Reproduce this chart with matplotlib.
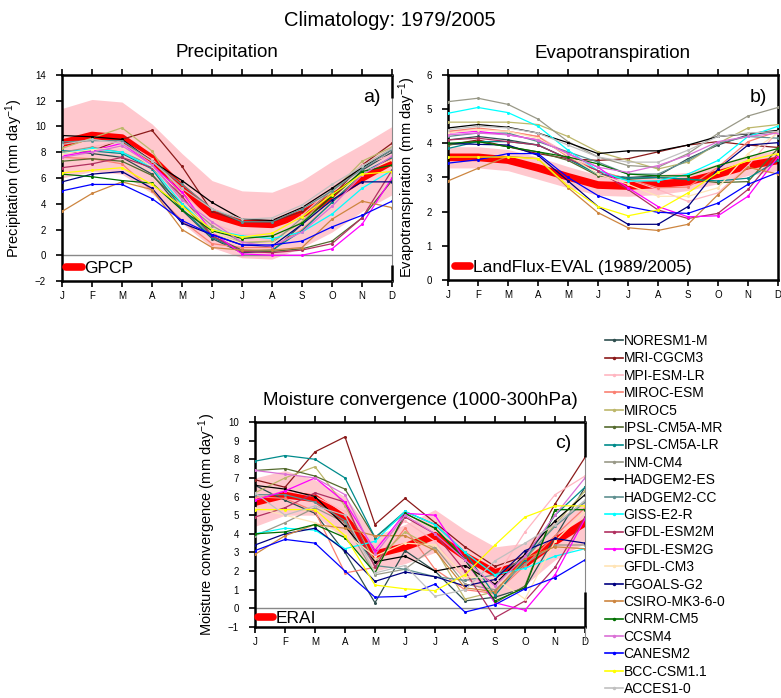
import matplotlib
matplotlib.use("Agg")
import matplotlib.pyplot as plt
from matplotlib.lines import Line2D
import numpy as np

plt.rcParams['font.family'] = ['Liberation Sans', 'DejaVu Sans']
plt.rcParams['mathtext.default'] = 'regular'

months = ['J', 'F', 'M', 'A', 'M', 'J', 'J', 'A', 'S', 'O', 'N', 'D']

models = ['NORESM1-M', 'MRI-CGCM3', 'MPI-ESM-LR', 'MIROC-ESM', 'MIROC5',
          'IPSL-CM5A-MR', 'IPSL-CM5A-LR', 'INM-CM4', 'HADGEM2-ES', 'HADGEM2-CC',
          'GISS-E2-R', 'GFDL-ESM2M', 'GFDL-ESM2G', 'GFDL-CM3', 'FGOALS-G2',
          'CSIRO-MK3-6-0', 'CNRM-CM5', 'CCSM4', 'CANESM2', 'BCC-CSM1.1', 'ACCES1-0']

colors = ['#2F4F4F', '#8B1A1A', '#FFB6C1', '#FA8072', '#BDB76B',
          '#556B2F', '#008B8B', '#999988', '#000000', '#5F9090',
          '#00FFFF', '#B03060', '#FF00FF', '#FFE4B5', '#000080',
          '#CD853F', '#007000', '#DA70D6', '#0000FF', '#FFFF00', '#C0C0C0']

# ---------------- Precipitation (mm/day) ----------------
pr_NORESM1_M   = [8.1, 7.9, 7.6, 6.3, 3.5, 1.3, 0.2, 0.3, 2.4, 4.3, 6.6, 8.0]
pr_MRI_CGCM3   = [8.0, 8.1, 9.0, 9.7, 6.9, 3.4, 2.6, 2.6, 3.4, 4.6, 7.0, 8.7]
pr_MPI_ESM_LR  = [7.5, 8.4, 8.9, 7.5, 5.0, 2.5, 1.6, 1.7, 3.1, 5.2, 7.0, 7.8]
pr_MIROC_ESM   = [7.6, 7.5, 7.1, 5.0, 2.7, 0.9, 0.6, 0.6, 2.0, 4.1, 6.3, 7.5]
pr_MIROC5      = [8.3, 9.1, 9.9, 8.1, 4.4, 1.7, 1.0, 1.1, 2.6, 4.9, 7.3, 8.4]
pr_IPSL_MR     = [7.3, 7.5, 7.3, 6.2, 4.0, 1.5, 0.4, 0.3, 0.5, 1.1, 2.9, 5.8]
pr_IPSL_LR     = [8.1, 8.1, 7.9, 6.7, 3.6, 1.4, 0.3, 0.4, 1.9, 4.1, 6.4, 7.6]
pr_INM_CM4     = [8.0, 8.4, 8.0, 7.0, 4.3, 2.3, 1.0, 0.9, 2.9, 5.1, 6.9, 8.3]
pr_HADGEM2_ES  = [9.3, 9.2, 9.0, 7.3, 5.8, 4.1, 2.8, 2.7, 3.7, 5.2, 6.8, 8.2]
pr_HADGEM2_CC  = [8.8, 8.9, 8.9, 7.3, 5.5, 3.6, 2.6, 2.6, 3.6, 5.0, 6.7, 8.2]
pr_GISS_E2_R   = [7.9, 8.3, 8.0, 6.8, 4.0, 2.0, 1.5, 1.3, 1.8, 3.2, 5.2, 6.6]
pr_GFDL_ESM2M  = [6.8, 7.1, 7.6, 6.8, 4.6, 1.5, 0.3, 0.2, 0.4, 0.9, 2.9, 6.6]
pr_GFDL_ESM2G  = [7.7, 8.1, 8.7, 7.0, 4.9, 1.8, 0.1, 0.0, 0.0, 0.5, 2.4, 6.0]
pr_GFDL_CM3    = [7.9, 8.2, 8.4, 6.9, 4.3, 1.8, 0.9, 0.9, 2.4, 4.3, 6.4, 7.4]
pr_FGOALS_G2   = [5.7, 6.3, 6.5, 5.2, 2.5, 1.6, 0.8, 0.7, 2.4, 4.3, 5.7, 5.7]
pr_CSIRO       = [3.4, 4.8, 5.7, 5.1, 2.0, 0.6, 0.4, 0.4, 0.6, 2.8, 4.2, 3.7]
pr_CNRM_CM5    = [6.3, 6.1, 5.8, 5.6, 3.5, 1.9, 1.3, 1.5, 2.5, 4.6, 6.5, 7.0]
pr_CCSM4       = [7.6, 8.0, 8.5, 7.0, 4.3, 2.6, 1.0, 0.7, 1.8, 3.8, 6.2, 7.7]
pr_CANESM2     = [5.0, 5.5, 5.5, 4.4, 2.7, 1.6, 0.8, 0.8, 1.1, 2.2, 3.1, 4.2]
pr_BCC_CSM11   = [6.4, 6.6, 6.8, 5.5, 3.8, 2.0, 1.4, 1.7, 3.0, 4.7, 6.3, 6.5]
pr_ACCES1_0    = [8.6, 9.0, 8.7, 7.3, 5.2, 3.6, 2.8, 2.9, 3.9, 5.5, 6.9, 8.3]
pr_obs         = [8.7, 9.3, 9.1, 7.5, 5.2, 3.2, 2.5, 2.4, 3.2, 4.5, 6.0, 7.3]
pr_band_hi     = [11.4, 12.1, 11.9, 10.2, 7.9, 5.8, 5.0, 4.9, 5.8, 7.3, 8.6, 10.0]
pr_band_lo     = [6.0, 6.5, 6.3, 4.8, 2.5, 0.6, -0.2, -0.3, 0.6, 1.8, 3.4, 4.7]

# ---------------- Evapotranspiration (mm/day) ----------------
et_NORESM1_M   = [4.10, 4.20, 4.10, 3.95, 3.55, 3.10, 3.00, 3.05, 3.55, 3.95, 4.25, 4.35]
et_MRI_CGCM3   = [3.95, 4.10, 3.90, 3.70, 3.55, 3.50, 3.55, 3.75, 3.95, 4.05, 3.95, 3.88]
et_MPI_ESM_LR  = [4.35, 4.40, 4.35, 4.20, 3.70, 3.20, 2.95, 2.65, 2.30, 2.55, 3.35, 4.35]
et_MIROC_ESM   = [4.35, 4.45, 4.35, 4.20, 3.60, 3.20, 2.95, 2.70, 2.72, 3.30, 4.05, 4.35]
et_MIROC5      = [4.62, 4.62, 4.62, 4.55, 4.20, 3.75, 3.50, 3.25, 3.45, 4.00, 4.45, 4.55]
et_IPSL_MR     = [3.95, 4.05, 3.90, 3.75, 3.50, 3.05, 2.95, 3.00, 2.95, 2.85, 2.88, 3.85]
et_IPSL_LR     = [3.85, 4.05, 4.05, 3.95, 3.55, 3.10, 2.98, 3.00, 2.95, 2.90, 2.98, 3.50]
et_INM_CM4     = [5.22, 5.32, 5.14, 4.71, 4.05, 3.60, 3.35, 3.30, 3.70, 4.29, 4.80, 5.05]
et_HADGEM2_ES  = [4.45, 4.55, 4.47, 4.30, 4.02, 3.70, 3.78, 3.78, 3.95, 4.20, 4.28, 4.38]
et_HADGEM2_CC  = [4.20, 4.30, 4.30, 4.05, 3.75, 3.45, 3.10, 3.10, 3.50, 4.00, 4.20, 4.15]
et_GISS_E2_R   = [4.88, 5.05, 4.90, 4.50, 3.80, 3.20, 2.90, 2.90, 3.10, 3.50, 4.20, 4.50]
et_GFDL_ESM2M  = [4.10, 4.15, 4.05, 3.95, 3.55, 3.20, 2.65, 2.05, 1.80, 1.95, 2.65, 3.70]
et_GFDL_ESM2G  = [4.30, 4.35, 4.25, 4.10, 3.70, 3.30, 2.70, 2.15, 1.85, 1.88, 2.45, 3.60]
et_GFDL_CM3    = [4.30, 4.40, 4.35, 4.15, 3.65, 3.10, 2.80, 2.45, 2.45, 2.70, 3.70, 4.30]
et_FGOALS_G2   = [4.00, 3.97, 3.95, 3.65, 2.90, 2.15, 1.63, 1.63, 2.15, 3.25, 3.95, 4.02]
et_CSIRO       = [2.90, 3.27, 3.62, 3.55, 2.70, 1.97, 1.53, 1.45, 1.63, 2.50, 3.30, 3.10]
et_CNRM_CM5    = [4.00, 4.05, 3.90, 3.75, 3.60, 3.40, 3.10, 3.05, 3.05, 3.35, 3.60, 3.85]
et_CCSM4       = [4.25, 4.30, 4.25, 4.10, 3.70, 3.30, 3.15, 3.35, 3.65, 4.05, 4.20, 4.30]
et_CANESM2     = [3.42, 3.52, 3.70, 3.70, 3.00, 2.47, 2.15, 1.98, 1.95, 2.25, 2.80, 3.15]
et_BCC_CSM11   = [3.60, 3.60, 3.60, 3.55, 2.75, 2.15, 1.88, 2.05, 2.55, 3.15, 3.50, 3.70]
et_ACCES1_0    = [4.40, 4.50, 4.45, 4.30, 3.95, 3.60, 3.45, 3.45, 3.80, 4.20, 4.30, 4.35]
et_obs         = [3.59, 3.59, 3.51, 3.28, 3.02, 2.78, 2.75, 2.80, 2.88, 3.10, 3.35, 3.50]
et_band_hi     = [3.90, 3.90, 3.82, 3.60, 3.32, 3.07, 3.02, 3.08, 3.15, 3.40, 3.65, 3.80]
et_band_lo     = [3.28, 3.28, 3.20, 2.95, 2.70, 2.48, 2.45, 2.50, 2.62, 2.82, 3.06, 3.20]

# ---------------- Moisture convergence (mm/day) ----------------
mc_NORESM1_M   = [6.6, 5.8, 5.1, 3.0, 0.3, 3.1, 2.0, 0.4, 0.6, 1.1, 3.8, 6.5]
mc_MRI_CGCM3   = [6.9, 6.5, 8.4, 9.2, 4.5, 5.9, 4.6, 3.3, 2.25, 2.8, 5.6, 8.1]
mc_MPI_ESM_LR  = [5.9, 6.3, 6.0, 5.2, 3.3, 4.7, 3.6, 1.5, 1.6, 4.1, 6.1, 7.1]
mc_MIROC_ESM   = [6.0, 5.9, 5.2, 1.9, 2.2, 4.3, 2.1, 1.0, 0.8, 2.3, 3.9, 5.4]
mc_MIROC5      = [6.2, 7.0, 7.6, 5.5, 2.5, 4.1, 3.2, 0.5, 0.9, 2.6, 4.5, 6.3]
mc_IPSL_MR     = [7.4, 7.5, 7.1, 6.4, 3.8, 5.1, 4.3, 2.7, 0.3, 1.2, 5.3, 5.3]
mc_IPSL_LR     = [7.9, 8.2, 8.0, 7.0, 3.8, 5.2, 4.5, 3.0, 0.7, 2.6, 5.0, 6.5]
mc_INM_CM4     = [3.9, 4.6, 5.4, 4.6, 1.8, 2.1, 3.3, 1.3, 1.0, 2.4, 3.4, 3.4]
mc_HADGEM2_ES  = [6.6, 6.4, 6.0, 4.4, 2.5, 2.8, 2.0, 2.3, 1.3, 2.9, 4.7, 6.1]
mc_HADGEM2_CC  = [6.1, 6.1, 5.7, 4.7, 2.3, 2.1, 1.7, 1.5, 1.8, 2.7, 4.4, 5.7]
mc_GISS_E2_R   = [4.0, 4.3, 4.2, 3.2, 3.6, 5.2, 4.5, 3.0, 1.8, 2.15, 2.8, 3.2]
mc_GFDL_ESM2M  = [4.9, 5.4, 6.2, 5.7, 2.2, 4.9, 4.0, 2.0, -0.5, 0.4, 2.2, 4.9]
mc_GFDL_ESM2G  = [5.8, 6.3, 7.0, 5.7, 3.1, 5.1, 5.0, 2.6, 0.3, -0.1, 1.8, 4.8]
mc_GFDL_CM3    = [5.4, 5.0, 4.6, 4.0, 2.8, 3.5, 3.4, 1.7, 1.6, 0.5, 3.6, 5.2]
mc_FGOALS_G2   = [3.4, 4.0, 4.3, 3.1, 1.45, 1.95, 1.7, 1.2, 1.55, 3.1, 3.75, 3.5]
mc_CSIRO       = [2.9, 3.9, 4.5, 4.3, 3.9, 3.9, 3.1, 1.1, 0.9, 2.7, 3.3, 3.2]
mc_CNRM_CM5    = [4.0, 4.1, 4.5, 3.8, 1.9, 5.1, 4.3, 2.6, 0.4, 1.1, 5.3, 5.3]
mc_CCSM4       = [7.4, 7.2, 7.0, 6.1, 2.9, 5.0, 4.0, 2.6, 1.2, 2.8, 5.0, 7.0]
mc_CANESM2     = [3.1, 3.7, 3.5, 2.0, 0.6, 0.65, 1.3, -0.2, 0.2, 1.05, 1.65, 2.6]
mc_BCC_CSM11   = [5.3, 5.3, 5.3, 3.9, 1.25, 1.05, 0.95, 1.8, 3.4, 4.9, 5.5, 5.5]
mc_ACCES1_0    = [6.2, 5.0, 5.5, 5.0, 1.9, 2.3, 0.65, 1.0, 2.55, 3.5, 4.5, 5.8]
mc_obs         = [5.7, 6.1, 5.9, 4.8, 2.9, 3.3, 3.9, 2.8, 1.9, 2.4, 3.6, 4.6]
mc_band_hi     = [7.0, 7.4, 6.9, 6.0, 3.9, 4.5, 5.3, 4.2, 3.3, 3.5, 4.7, 5.8]
mc_band_lo     = [4.4, 5.0, 5.0, 3.7, 2.0, 2.4, 3.0, 1.6, 0.5, 1.25, 2.6, 3.5]

pr_models = [pr_NORESM1_M, pr_MRI_CGCM3, pr_MPI_ESM_LR, pr_MIROC_ESM, pr_MIROC5,
             pr_IPSL_MR, pr_IPSL_LR, pr_INM_CM4, pr_HADGEM2_ES, pr_HADGEM2_CC,
             pr_GISS_E2_R, pr_GFDL_ESM2M, pr_GFDL_ESM2G, pr_GFDL_CM3, pr_FGOALS_G2,
             pr_CSIRO, pr_CNRM_CM5, pr_CCSM4, pr_CANESM2, pr_BCC_CSM11, pr_ACCES1_0]
et_models = [et_NORESM1_M, et_MRI_CGCM3, et_MPI_ESM_LR, et_MIROC_ESM, et_MIROC5,
             et_IPSL_MR, et_IPSL_LR, et_INM_CM4, et_HADGEM2_ES, et_HADGEM2_CC,
             et_GISS_E2_R, et_GFDL_ESM2M, et_GFDL_ESM2G, et_GFDL_CM3, et_FGOALS_G2,
             et_CSIRO, et_CNRM_CM5, et_CCSM4, et_CANESM2, et_BCC_CSM11, et_ACCES1_0]
mc_models = [mc_NORESM1_M, mc_MRI_CGCM3, mc_MPI_ESM_LR, mc_MIROC_ESM, mc_MIROC5,
             mc_IPSL_MR, mc_IPSL_LR, mc_INM_CM4, mc_HADGEM2_ES, mc_HADGEM2_CC,
             mc_GISS_E2_R, mc_GFDL_ESM2M, mc_GFDL_ESM2G, mc_GFDL_CM3, mc_FGOALS_G2,
             mc_CSIRO, mc_CNRM_CM5, mc_CCSM4, mc_CANESM2, mc_BCC_CSM11, mc_ACCES1_0]

W, H = 781, 698
fig = plt.figure(figsize=(W / 100, H / 100), dpi=100)


def px_axes(left, top, right, bottom):
    return fig.add_axes([left / W, 1 - bottom / H, (right - left) / W, (bottom - top) / H])


ax_a = px_axes(62, 75, 392, 281)
ax_b = px_axes(448, 75, 778, 280)
ax_c = px_axes(255, 422, 585, 627)

x = np.arange(12)


def draw_panel(ax, models_data, obs, lo, hi, ylim, yticks, title, ylabel, tag,
               obs_label, ylab_x, leg_xy, title_off, tag_xy):
    ax.fill_between(x, lo, hi, color='#FFC8CE', lw=0, zorder=1)
    if ylim[0] < 0:
        ax.axhline(0, color='#888888', lw=1.0, zorder=1.5)
    obs_line, = ax.plot(x, obs, color='#FF0000', lw=5.5, zorder=2,
                        solid_capstyle='round', solid_joinstyle='round')
    for d, c in zip(models_data, colors):
        ax.plot(x, d, color=c, lw=0.9, marker='o', ms=2.2, mew=0, zorder=3)
    ax.set_xlim(0, 11)
    ax.set_ylim(*ylim)
    ax.set_yticks(yticks)
    ax.set_xticks(x)
    ax.set_xticklabels(months)
    ax.tick_params(axis='both', direction='out', length=4.5, width=1.2,
                   labelsize=7, colors='black')
    ax.tick_params(axis='x', pad=3, top=True, labeltop=False)
    ax.tick_params(axis='y', pad=7)
    for s in ax.spines.values():
        s.set_linewidth(1.8)
    ax.set_ylabel(ylabel, fontsize=10.5)
    ax.yaxis.set_label_coords(ylab_x, 0.5)
    ax.text(0.5, 1 + title_off, title, transform=ax.transAxes,
            ha='center', va='center', fontsize=13.5)
    ax.text(tag_xy[0], tag_xy[1], tag, transform=ax.transAxes,
            ha='center', va='center', fontsize=14)
    ax.legend([obs_line], [obs_label], loc='center left', bbox_to_anchor=leg_xy,
              frameon=False, fontsize=12.5, handlelength=0.9, handletextpad=0.15,
              borderpad=0, borderaxespad=0)


draw_panel(ax_a, pr_models, pr_obs, pr_band_lo, pr_band_hi, (-2, 14),
           np.arange(-2, 15, 2), 'Precipitation', 'Precipitation (mm day$^{-1}$)',
           'a)', 'GPCP', -0.112, (0.012, 0.063), 0.107, (0.94, 0.89))
draw_panel(ax_b, et_models, et_obs, et_band_lo, et_band_hi, (0, 6),
           np.arange(0, 7, 1), 'Evapotranspiration', 'Evapotranspiration (mm day$^{-1}$)',
           'b)', 'LandFlux-EVAL (1989/2005)', -0.091, (0.02, 0.059), 0.107, (0.94, 0.89))
draw_panel(ax_c, mc_models, mc_obs, mc_band_lo, mc_band_hi, (-1, 10),
           np.arange(-1, 11, 1), 'Moisture convergence (1000-300hPa)',
           'Moisture convergence (mm day$^{-1}$)',
           'c)', 'ERAI', -0.112, (0.008, 0.042), 0.106, (0.933, 0.896))

# partially hidden right frames of panels a and c
for ax, lo_top, hi_bot, grey_lo in [(ax_a, 0.888, 0.078, 0.0), (ax_c, 0.828, 0.169, -0.065)]:
    ax.spines['right'].set_visible(False)
    ax.plot([1, 1], [grey_lo, 1], transform=ax.transAxes, color='#888888', lw=0.8,
            clip_on=False, zorder=5)
    ax.plot([1, 1], [lo_top, 1.0], transform=ax.transAxes, color='black', lw=1.8,
            clip_on=False, zorder=6, solid_capstyle='butt')
    ax.plot([1, 1], [0.0, hi_bot], transform=ax.transAxes, color='black', lw=1.8,
            clip_on=False, zorder=6, solid_capstyle='butt')

fig.text(390 / W, 1 - 20 / H, 'Climatology: 1979/2005', ha='center', va='center',
         fontsize=14.5)

handles = [Line2D([], [], color=c, lw=1.2, marker='o', ms=2.5, mew=0) for c in colors]
fig.legend(handles, models, loc='upper left', bbox_to_anchor=(605 / W, 1 - 334 / H),
           frameon=False, fontsize=10, handlelength=1.3, handletextpad=0.05,
           labelspacing=0.245, borderpad=0, borderaxespad=0)

fig.savefig('out.png', dpi=100)
